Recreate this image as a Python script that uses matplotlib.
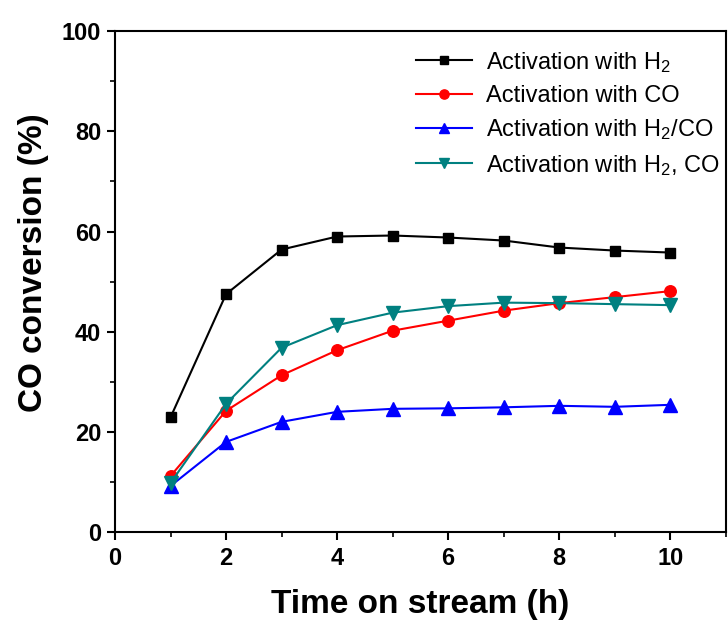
import matplotlib
matplotlib.use("Agg")
import matplotlib.pyplot as plt
from matplotlib.ticker import MultipleLocator

plt.rcParams['font.family'] = ['Liberation Sans', 'DejaVu Sans']
plt.rcParams['mathtext.fontset'] = 'custom'
plt.rcParams['mathtext.rm'] = 'Liberation Sans'
plt.rcParams['mathtext.it'] = 'Liberation Sans:italic'
plt.rcParams['mathtext.bf'] = 'Liberation Sans:bold'

# time on stream (h)
hours = [1, 2, 3, 4, 5, 6, 7, 8, 9, 10]

# CO conversion (%) for each activation treatment
conv_h2 = [22.9, 47.5, 56.4, 59.0, 59.2, 58.8, 58.2, 56.8, 56.2, 55.8]
conv_co = [11.2, 24.2, 31.3, 36.3, 40.2, 42.2, 44.2, 45.7, 46.9, 48.1]
conv_h2_co_mix = [9.2, 18.0, 22.0, 24.0, 24.6, 24.7, 24.9, 25.2, 25.0, 25.4]
conv_h2_then_co = [9.8, 25.6, 36.8, 41.3, 43.8, 45.1, 45.8, 45.7, 45.5, 45.3]

labels = ['Activation with H$_2$', 'Activation with CO',
          'Activation with H$_2$/CO', 'Activation with H$_2$, CO']

fig = plt.figure(figsize=(7.28, 6.23), dpi=100)
ax = fig.add_axes([0.158, 0.146, 0.839, 0.804])

ax.plot(hours, conv_h2, color='black', marker='s', ms=7.7, lw=1.5, label=labels[0])
ax.plot(hours, conv_co, color='red', marker='o', ms=8.3, lw=1.5, label=labels[1])
ax.plot(hours, conv_h2_co_mix, color='blue', marker='^', ms=9.5, lw=1.5, label=labels[2])
ax.plot(hours, conv_h2_then_co, color='teal', marker='v', ms=9.5, lw=1.5, label=labels[3])

ax.set_xlim(0, 11)
ax.set_ylim(0, 100)
ax.xaxis.set_major_locator(MultipleLocator(2))
ax.xaxis.set_minor_locator(MultipleLocator(1))
ax.yaxis.set_major_locator(MultipleLocator(20))
ax.yaxis.set_minor_locator(MultipleLocator(10))

for s in ax.spines.values():
    s.set_linewidth(1.5)
ax.tick_params(which='major', direction='out', length=5.5, width=1.5, labelsize=17)
ax.tick_params(axis='x', which='major', pad=5)
ax.tick_params(axis='y', which='major', pad=4.5)
ax.tick_params(which='minor', direction='out', length=3.5, width=1.2)
for t in ax.get_xticklabels() + ax.get_yticklabels():
    t.set_fontweight('bold')

ax.set_xlabel('Time on stream (h)', fontsize=24, fontweight='bold', labelpad=14)
ax.set_ylabel('CO conversion (%)', fontsize=24, fontweight='bold')
ax.yaxis.set_label_coords(-0.108, 0.537)

ax.legend(loc='upper left', bbox_to_anchor=(0.4926, 0.963), frameon=False,
          fontsize=17, handlelength=2.37, handletextpad=0.59, labelspacing=0.44,
          borderpad=0, borderaxespad=0, markerscale=0.8)

fig.savefig('out.png', dpi=100)
